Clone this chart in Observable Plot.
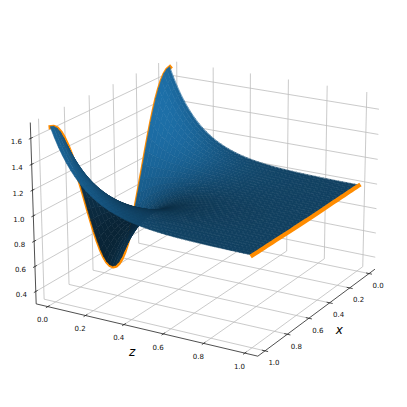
<!DOCTYPE html><html><head><meta charset="utf-8">
<script src="https://cdn.jsdelivr.net/npm/d3@7"></script>
<script src="https://cdn.jsdelivr.net/npm/@observablehq/plot@0.6"></script>
<style>html,body{margin:0;background:#fff}svg{display:block}</style></head><body><script>
// Values
const xTicks=[0,.2,.4,.6,.8,1];
const zTicks=[0,.2,.4,.6,.8,1];
const yTicks=[.4,.6,.8,1,1.2,1.4,1.6];
// height along the z=0 edge, x = 0 … 1 in steps of 0.025
const profile=[1.700,1.691,1.666,1.624,1.566,1.495,1.411,1.318,1.216,1.109,1.000,.891,.784,.682,.589,.505,.434,.376,.334,.309,.300,.309,.334,.376,.434,.505,.589,.682,.784,.891,1.000,1.105,1.207,1.305,1.395,1.475,1.543,1.599,1.639,1.663,1.672];
// share of that relief left at z = 0 … 1 in steps of 0.02
const relief=[1,.8869,.7866,.6977,.6188,.5488,.4868,.4317,.3829,.3396,.3012,.2671,.2369,.2101,.1864,.1653,.1466,.1300,.1153,.1023,.0907,.0805,.0714,.0633,.0561,.0498,.0442,.0392,.0347,.0308,.0273,.0242,.0215,.0191,.0169,.0150,.0133,.0118,.0105,.0093,.0082,.0073,.0065,.0058,.0051,.0045,.0040,.0036,.0032,.0028,.0025];
const level=1;
const lim={x:[-.0625,1.0625],z:[-.0625,1.0625],y:[.3,1.72]};
// Camera
const cam=[[-119.558,166.946,-4.35135,171.267],[44.3716,25.0313,-118.689,266.388],[-.0812703,-.0486656,-.0192671,1]];
const dot=(r,x,z,y)=>r[0]*x+r[1]*z+r[2]*y+r[3];
const px=(x,z,y)=>dot(cam[0],x,z,y)/dot(cam[2],x,z,y);
const py=(x,z,y)=>dot(cam[1],x,z,y)/dot(cam[2],x,z,y);
const depth=(x,z,y)=>dot(cam[2],x,z,y);
const P=(x,z,y)=>({px:px(x,z,y),py:py(x,z,y)});
const xs=profile.map((_,i)=>i/(profile.length-1));
const zs=relief.map((_,j)=>j/(relief.length-1));
const U=(i,j)=>level+(profile[i]-level)*relief[j];
// Cells with Matplotlib-style shading (light from azimuth 225, altitude 19.47)
const L=[-2/3,-2/3,1/3];
let cells=[];
for(let j=0;j<zs.length-1;j++)for(let i=0;i<xs.length-1;i++){
  const a=U(i,j),b=U(i+1,j),c=U(i+1,j+1),d=U(i,j+1);
  const ux=((b-a)+(c-d))/2/(xs[i+1]-xs[i]),uz=((d-a)+(c-b))/2/(zs[j+1]-zs[j]);
  const s=(L[0]*uz+L[1]*ux-L[2])/Math.hypot(ux,uz,1);
  const xm=(xs[i]+xs[i+1])/2,zm=(zs[j]+zs[j+1])/2,ym=(a+b+c+d)/4;
  cells.push({far:depth(xm,zm,ym),shade:.3+.7*(s+1)/2,p:[i,j,i+1,j,a,b],q:[i,j+1,i+1,j+1,d,c]});
}
cells.sort((A,B)=>B.far-A.far);
const rows=[];
cells.forEach((c,k)=>{
  for(const [i,j,i2,j2,u,u2] of [[c.p[0],c.p[1],c.q[0],c.q[1],c.p[4],c.q[4]],[c.p[2],c.p[3],c.q[2],c.q[3],c.p[5],c.q[5]]]){
    const A=P(xs[i],zs[j],u),B=P(xs[i2],zs[j2],u2);
    rows.push({k,shade:c.shade,x1:A.px,y1:A.py,x2:B.px,y2:B.py});
  }
});
const edge=j=>xs.map((x,i)=>P(x,zs[j],U(i,j)));
const [xa,xb]=lim.x,[za,zb]=lim.z,[lo,hi]=lim.y;
const seg=(p,q)=>{const A=P(...p),B=P(...q);return{x1:A.px,y1:A.py,x2:B.px,y2:B.py}};
const grid=[
  ...xTicks.flatMap(t=>[seg([t,za,lo],[t,zb,lo]),seg([t,za,lo],[t,za,hi])]),
  ...zTicks.flatMap(t=>[seg([xa,t,lo],[xb,t,lo]),seg([xa,t,lo],[xa,t,hi])]),
  ...yTicks.flatMap(t=>[seg([xb,za,t],[xa,za,t]),seg([xa,za,t],[xa,zb,t])])
];
const axes=[seg([xb,za,lo],[xb,za,hi]),seg([xb,za,lo],[xb,zb,lo]),seg([xb,zb,lo],[xa,zb,lo])];
const h=.015;
const ticks=[
  ...zTicks.map(t=>seg([xb-h,t,lo],[xb+h,t,lo])),
  ...xTicks.map(t=>seg([t,zb-h,lo],[t,zb+h,lo])),
  ...yTicks.map(t=>seg([xb-h,za,t],[xb+h,za,t]))
];
const fmt=d3.format(".1f");
const labs=(vals,f)=>vals.map(t=>({...f(t),t:fmt(t)}));
const font={fontFamily:"DejaVu Sans",fontSize:7,fill:"#111"};
const chart=Plot.plot({
  width:407,height:407,margin:0,
  x:{domain:[0,407],range:[0,407],axis:null},
  y:{domain:[0,407],range:[0,407],axis:null},
  color:{type:"linear",domain:[.3,1],range:["rgb(9,36,54)","rgb(31,119,180)"]},
  style:{background:"#fff"},
  marks:[
    Plot.link(grid,{x1:"x1",y1:"y1",x2:"x2",y2:"y2",stroke:"#bdbdbd",strokeWidth:.8}),
    Plot.link(axes,{x1:"x1",y1:"y1",x2:"x2",y2:"y2",stroke:"#222",strokeWidth:.8}),
    Plot.link(ticks,{x1:"x1",y1:"y1",x2:"x2",y2:"y2",stroke:"#222",strokeWidth:.8}),
    Plot.line(edge(0),{x:"px",y:"py",stroke:"#ff8c00",strokeWidth:4.2,strokeLinejoin:"round",strokeLinecap:"square"}),
    Plot.area(rows,{x1:"x1",y1:"y1",x2:"x2",y2:"y2",z:"k",fill:"shade",stroke:"shade",strokeWidth:.6}),
    Plot.line(edge(zs.length-1),{x:"px",y:"py",stroke:"#ff8c00",strokeWidth:4.2,strokeLinecap:"square"}),
    Plot.text(labs(zTicks,t=>P(xb,t,lo)),{x:"px",y:"py",text:"t",dx:-5.3,dy:13.5,...font}),
    Plot.text(labs(xTicks,t=>P(t,zb,lo)),{x:"px",y:"py",text:"t",dx:9,dy:12,...font}),
    Plot.text(labs(yTicks,t=>P(xb,za,t)),{x:"px",y:"py",text:"t",dx:-14.5,dy:3.5,...font}),
    Plot.text([{...P(xb,.5,lo),t:"z"}],{x:"px",y:"py",text:"t",dx:-11.5,dy:23,fontFamily:"DejaVu Sans",fontStyle:"italic",fontSize:12,fill:"#000"}),
    Plot.text([{...P(.5,zb,lo),t:"x"}],{x:"px",y:"py",text:"t",dx:20,dy:19.5,fontFamily:"DejaVu Sans",fontStyle:"italic",fontSize:12,fill:"#000"})
  ]
});
document.body.append(chart);
</script></body></html>
